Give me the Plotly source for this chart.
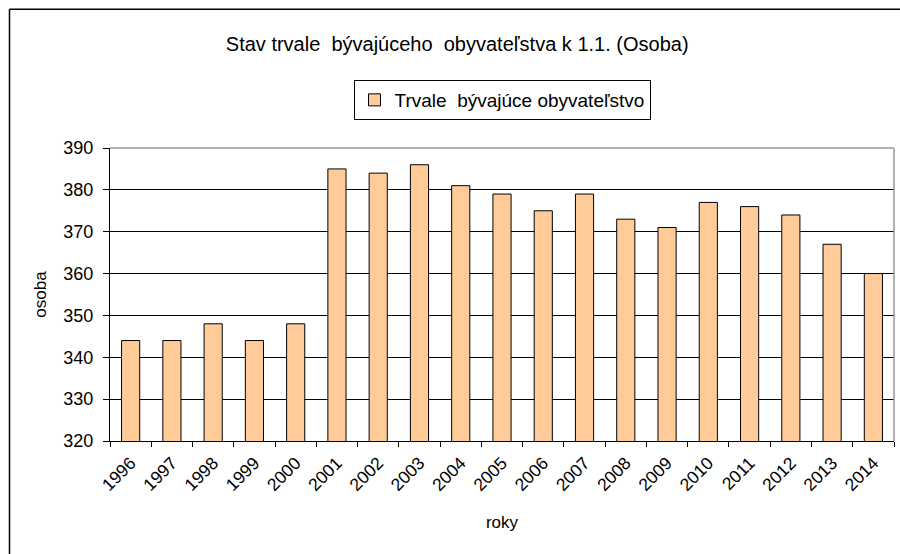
import plotly.graph_objects as go

years = ["1996", "1997", "1998", "1999", "2000", "2001", "2002", "2003", "2004", "2005",
         "2006", "2007", "2008", "2009", "2010", "2011", "2012", "2013", "2014"]
population = [344, 344, 348, 344, 348, 385, 384, 386, 381, 379,
              375, 379, 373, 371, 377, 376, 374, 367, 360]
y_ticks = [320, 330, 340, 350, 360, 370, 380, 390]

FONT = "Arial, 'Liberation Sans', sans-serif"

fig = go.Figure()
fig.add_trace(go.Bar(
    x=years, y=population, name="Trvale  bývajúce obyvateľstvo",
    marker=dict(color="#FFCC99", line=dict(color="#000000", width=1)),
    width=0.44,
))

fig.update_layout(
    width=900, height=554,
    paper_bgcolor="white", plot_bgcolor="white",
    margin=dict(l=110, r=6, t=148, b=113, autoexpand=False),
    font=dict(family=FONT, color="#000000", size=14),
    title=dict(text="Stav trvale  bývajúceho  obyvateľstva k 1.1. (Osoba)",
               x=0.508, xanchor="center", y=0.92, yanchor="middle",
               font=dict(size=20, family=FONT)),
    showlegend=True,
    legend=dict(x=0.5, xanchor="center", y=1.232, yanchor="top",
                orientation="h", bordercolor="#000000", borderwidth=1,
                font=dict(size=19, family=FONT), bgcolor="white",
                itemwidth=30),
)

fig.update_xaxes(
    type="category", tickson="boundaries", ticks="outside", ticklen=5,
    tickcolor="#000000", showline=True, linecolor="#000000", linewidth=1,
    showgrid=False, tickangle=-45, tickfont=dict(size=17.5, family=FONT),
    ticklabelstandoff=4, automargin=False,
    title=dict(text="roky", font=dict(size=17, family=FONT), standoff=22),
)
fig.update_yaxes(
    range=[320, 390], tickvals=y_ticks, ticks="outside", ticklen=6,
    tickcolor="#000000", showline=True, linecolor="#000000", linewidth=1,
    showgrid=True, gridcolor="#000000", gridwidth=1, zeroline=False,
    tickfont=dict(size=18, family=FONT), ticklabelstandoff=6, automargin=False,
    title=dict(text="osoba", font=dict(size=17, family=FONT), standoff=12),
)

# plot-area border (grey top & right)
fig.add_shape(type="line", xref="paper", yref="paper", x0=0, x1=1, y0=1, y1=1,
              line=dict(color="#999999", width=1.5), layer="above")
fig.add_shape(type="line", xref="paper", yref="paper", x0=1, x1=1, y0=0, y1=1,
              line=dict(color="#999999", width=1.5), layer="above")
# chart outer frame (left and top edges only visible)
fig.add_shape(type="line", xref="paper", yref="paper",
              x0=-0.1282, x1=-0.1282, y0=-0.6, y1=1.4735,
              line=dict(color="#000000", width=1.5), layer="below")
fig.add_shape(type="line", xref="paper", yref="paper",
              x0=-0.1282, x1=1.2, y0=1.4735, y1=1.4735,
              line=dict(color="#000000", width=1.5), layer="below")

fig.write_html(
    "out.html",
    config={"displayModeBar": False},
    post_script="document.body.style.margin='0px';"
                "document.documentElement.style.overflow='hidden';"
                "document.body.style.overflow='hidden';",
)
